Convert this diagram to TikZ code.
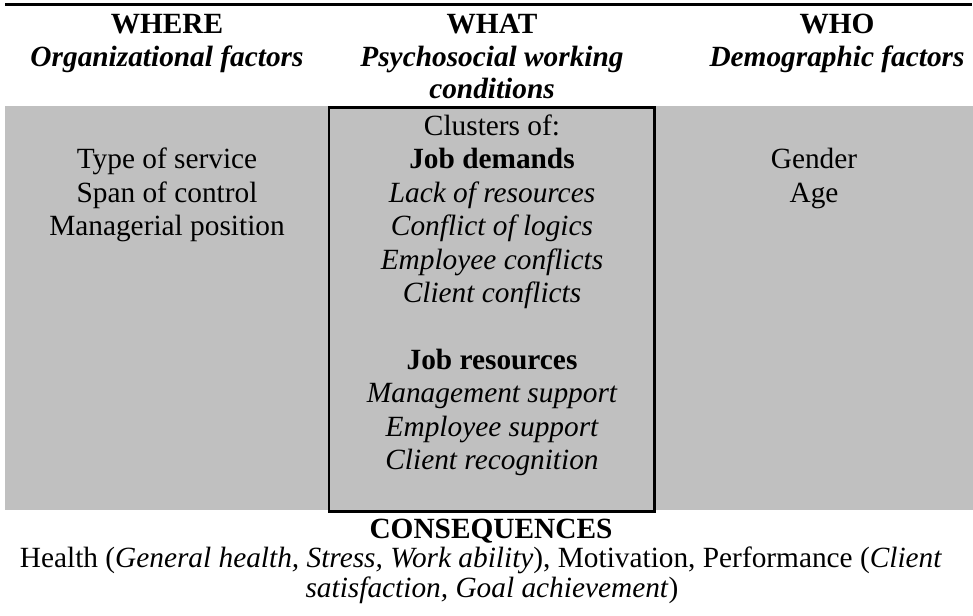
\documentclass[tikz,border=0pt]{standalone}
\usepackage{fontspec}
\setmainfont{Liberation Serif}
\definecolor{panelgray}{RGB}{192,192,192}
\tikzset{
  txt/.style={anchor=base, inner sep=0pt, font=\fontsize{22}{25}\selectfont},
  hd/.style={txt, font=\fontsize{22}{25}\selectfont\bfseries},
  hdi/.style={txt, font=\fontsize{22}{25}\selectfont\bfseries\itshape},
  it/.style={txt, font=\fontsize{22}{25}\selectfont\itshape},
  rule/.style={line width=2.25pt},
  framebox/.style={line width=2.1pt}
}
\begin{document}
\begin{tikzpicture}[x=0.75pt,y=-0.75pt]
\useasboundingbox (0,0) rectangle (973,615);
% background panel and rules
\fill[panelgray] (5,106) rectangle (973,510);
\draw[rule] (5,4.5) -- (972,4.5);
\draw[framebox] (329,107.5) rectangle (654.7,511.5);
% headers
\node[hd]  (where)  at (167,33) {WHERE};
\node[hdi] (whereS) at (167,66) {Organizational factors};
\node[hd]  (what)   at (492,33) {WHAT};
\node[hdi] (whatS1) at (492,66) {Psychosocial working};
\node[hdi] (whatS2) at (492,98) {conditions};
\node[hd]  (who)    at (837,33) {WHO};
\node[hdi] (whoS)   at (837,66) {Demographic factors};
% left column
\node[txt] (l1) at (167,168.9) {Type of service};
\node[txt] (l2) at (167,202.3) {Span of control};
\node[txt] (l3) at (167,235.7) {Managerial position};
% middle column
\node[txt] (m0) at (492,135.5) {Clusters of:};
\node[hd]  (m1) at (492,168.9) {Job demands};
\node[it]  (m2) at (492,202.3) {Lack of resources};
\node[it]  (m3) at (492,235.7) {Conflict of logics};
\node[it]  (m4) at (492,269.1) {Employee conflicts};
\node[it]  (m5) at (492,302.5) {Client conflicts};
\node[hd]  (m6) at (492,369.3) {Job resources};
\node[it]  (m7) at (492,402.7) {Management support};
\node[it]  (m8) at (492,436.1) {Employee support};
\node[it]  (m9) at (492,469.5) {Client recognition};
% right column
\node[txt] (r1) at (814,168.9) {Gender};
\node[txt] (r2) at (814,202.3) {Age};
% consequences
\node[hd]  (cons)  at (491,538) {CONSEQUENCES};
\node[txt] (cons1) at (481,567) {Health (\textit{General health, Stress, Work ability}), Motivation, Performance (\textit{Client}};
\node[txt] (cons2) at (492,597) {\textit{satisfaction, Goal achievement})};
\end{tikzpicture}
\end{document}
